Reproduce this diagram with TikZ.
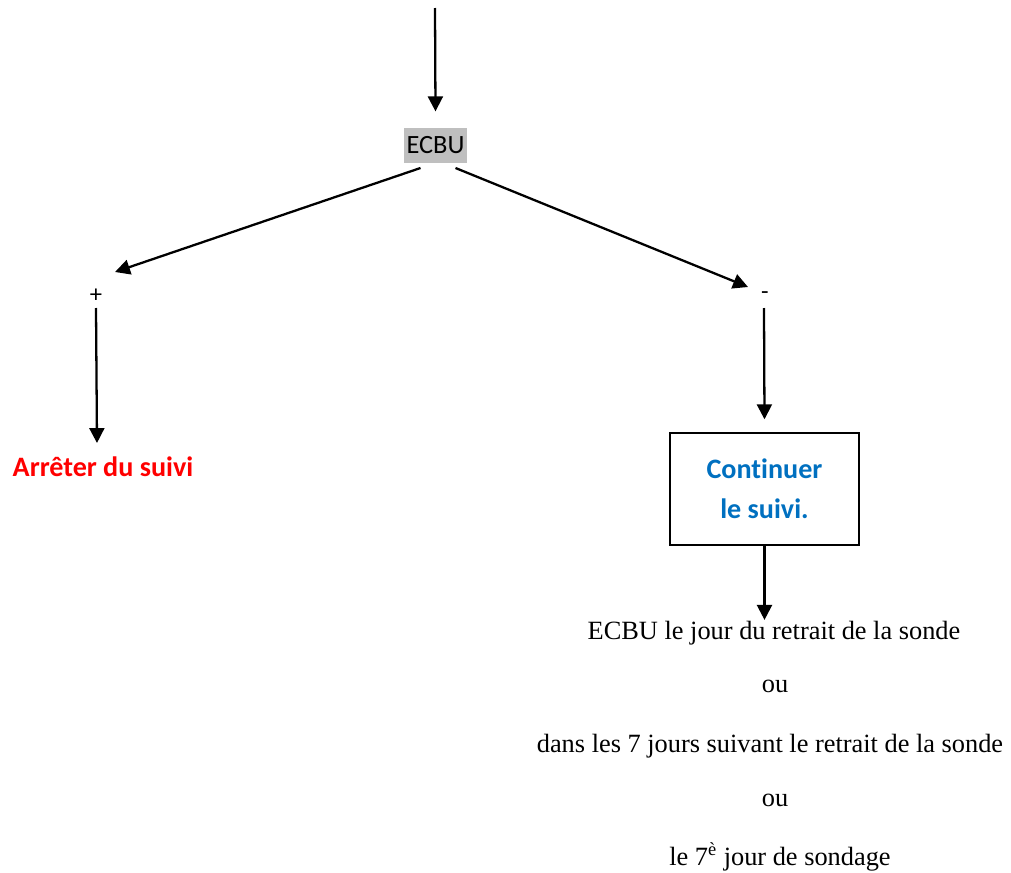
\documentclass[tikz,border=0pt]{standalone}
\usepackage{fontspec}
\setmainfont{Liberation Serif}
\newfontfamily\calibri[Ligatures=NoCommon]{Carlito}
\usetikzlibrary{arrows.meta}
\definecolor{ecbugray}{RGB}{191,191,191}
\definecolor{suiviblue}{RGB}{0,112,192}
\begin{document}
\begin{tikzpicture}[-{Triangle[length=8.5pt,width=8.5pt]},line width=1.3pt,
    every node/.style={inner sep=0pt},
    test/.style={fill=ecbugray,font=\calibri\fontsize{15}{18}\selectfont,inner xsep=1.5pt,minimum height=0.7cm},
    sign/.style={font=\calibri\fontsize{14}{16}\selectfont},
    stop/.style={text=red,font=\calibri\bfseries\fontsize{16}{19}\selectfont},
    decision/.style={draw,line width=0.8pt,minimum width=3.78cm,minimum height=2.24cm,align=center,
      text=suiviblue,font=\calibri\bfseries\fontsize{16}{22.7}\selectfont},
    txt/.style={font=\fontsize{15}{18}\selectfont}]
    \useasboundingbox (0,0) rectangle (20.22,-17.46);
    \coordinate (top) at (8.7,-0.16);
    \node[test] (ECBU) at (8.71,-2.9) {ECBU};
    \node[sign] (plus) at (1.92,-5.92) {+};
    \node[sign] (minus) at (15.3,-5.92) {-};
    \node[stop] (arret) at (2.06,-9.34) {Arrêter du suivi};
    \node[decision] (cont) at (15.29,-9.78) {Continuer\\le suivi.};
    \node[txt] (r1) at (15.48,-12.66) {ECBU le jour du retrait de la sonde};
    \node[txt] (ou1) at (15.5,-13.72) {ou};
    \node[txt] (r2) at (15.4,-14.92) {dans les 7 jours suivant le retrait de la sonde};
    \node[txt] (ou2) at (15.5,-16.0) {ou};
    \node[txt] (r3) at (15.6,-17.14) {le 7\textsuperscript{è} jour de sondage};
    \draw (top) -- ([yshift=0.3cm]ECBU.north);
    \draw ([xshift=-0.3cm,yshift=-0.46cm]ECBU.center) -- ([xshift=0.38cm,yshift=0.48cm]plus.center);
    \draw ([xshift=0.4cm,yshift=-0.46cm]ECBU.center) -- ([xshift=-0.34cm,yshift=0.18cm]minus.center);
    \draw ([yshift=-0.24cm]plus.center) -- ([xshift=-0.12cm,yshift=0.48cm]arret.center);
    \draw ([xshift=-0.02cm,yshift=-0.24cm]minus.center) -- ([yshift=0.26cm]cont.north);
    \draw (cont.south) -- (cont.south |- r1.north);
  \end{tikzpicture}
\end{document}
